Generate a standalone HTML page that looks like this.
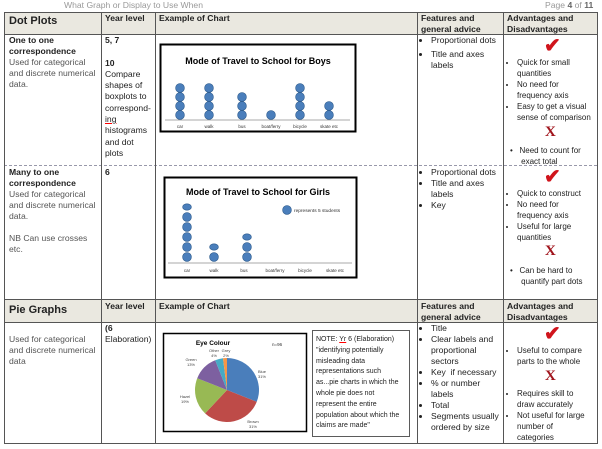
<!DOCTYPE html>
<html><head><meta charset="utf-8"><style>
body{margin:0;width:602px;height:449px;background:#fff;position:relative;overflow:hidden;font-family:"Liberation Sans",sans-serif;color:#222}
.a{position:absolute}
.t{font-size:8.6px;line-height:11px}
.h{font-weight:bold;font-size:8.6px;line-height:11px}
.g{color:#555}
.hl{position:absolute;background:#555;height:1px}
.vl{position:absolute;background:#555;width:1px}
.bg{position:absolute;background:#eae8e0}
ul{margin:0;padding:0 0 0 10px}
li{margin:0}
.ck{color:#d0141c;font-size:20px;font-weight:bold;line-height:20px}
.x{font-family:"Liberation Serif",serif;color:#a0141c;font-weight:bold;font-size:15px;line-height:15px}
.c5{width:89px;font-size:8px}
</style></head><body>
<div class="a t" style="left:64px;top:0;color:#999">What Graph or Display to Use When</div>
<div class="a t" style="left:545px;top:0;color:#999">Page <b style="color:#666">4</b> of <b style="color:#666">11</b></div>

<div class="bg" style="left:4px;top:12px;width:593px;height:22px"></div>
<div class="bg" style="left:4px;top:300px;width:593px;height:22px"></div>

<div class="hl" style="left:4px;top:12px;width:593px"></div>
<div class="hl" style="left:4px;top:34px;width:593px"></div>
<div class="a" style="left:4px;top:165px;width:593px;border-top:1px dashed #99a"></div>
<div class="hl" style="left:4px;top:299px;width:593px"></div>
<div class="hl" style="left:4px;top:322px;width:593px"></div>
<div class="hl" style="left:4px;top:443px;width:593px"></div>
<div class="vl" style="left:4px;top:12px;height:432px"></div>
<div class="vl" style="left:101px;top:12px;height:432px"></div>
<div class="vl" style="left:155px;top:12px;height:432px"></div>
<div class="vl" style="left:417px;top:12px;height:432px"></div>
<div class="vl" style="left:503px;top:12px;height:432px"></div>
<div class="vl" style="left:597px;top:12px;height:432px"></div>

<div class="a" style="left:9px;top:15px;font-weight:bold;font-size:11px">Dot Plots</div>
<div class="a h" style="left:105px;top:13px">Year level</div>
<div class="a h" style="left:159px;top:13px">Example of Chart</div>
<div class="a h" style="left:421px;top:13px">Features and<br>general advice</div>
<div class="a h" style="left:507px;top:13px">Advantages and<br>Disadvantages</div>

<div class="a t" style="left:9px;top:35px;width:90px"><b>One to one correspondence</b><br><span class="g">Used for categorical and discrete numerical data.</span></div>
<div class="a t" style="left:105px;top:35px;width:48px;line-height:11.3px"><b>5, 7</b><br><br><b>10</b><br>Compare shapes of boxplots to correspond-<br><u style="text-decoration-color:red">ing</u> histograms and dot plots</div>

<svg class="a" style="left:155px;top:34px" width="262" height="265" viewBox="155 34 262 265" font-family="Liberation Sans">
<rect x="160.5" y="44.5" width="195" height="87" fill="#fff" stroke="#000" stroke-width="2"/>
<text x="258" y="64" font-size="9" font-weight="bold" text-anchor="middle">Mode of Travel to School for Boys</text>
<line x1="165" y1="120" x2="350" y2="120" stroke="#aaa"/>
<g fill="#4a7ebb" stroke="#2c5a8c" stroke-width="0.6">
<circle cx="180" cy="115" r="4.4"/><circle cx="180" cy="106" r="4.4"/><circle cx="180" cy="97" r="4.4"/><circle cx="180" cy="88" r="4.4"/>
<circle cx="209" cy="115" r="4.4"/><circle cx="209" cy="106" r="4.4"/><circle cx="209" cy="97" r="4.4"/><circle cx="209" cy="88" r="4.4"/>
<circle cx="242" cy="115" r="4.4"/><circle cx="242" cy="106" r="4.4"/><circle cx="242" cy="97" r="4.4"/>
<circle cx="271" cy="115" r="4.4"/>
<circle cx="300" cy="115" r="4.4"/><circle cx="300" cy="106" r="4.4"/><circle cx="300" cy="97" r="4.4"/><circle cx="300" cy="88" r="4.4"/>
<circle cx="329" cy="115" r="4.4"/><circle cx="329" cy="106" r="4.4"/>
</g>
<g font-size="4.5" text-anchor="middle" fill="#333"><text x="180" y="128">car</text><text x="209" y="128">walk</text><text x="242" y="128">bus</text><text x="271" y="128">boat/ferry</text><text x="300" y="128">bicycle</text><text x="329" y="128">skate etc</text></g>

<rect x="164.5" y="177.5" width="192" height="100" fill="#fff" stroke="#000" stroke-width="2"/>
<text x="258" y="195" font-size="9" font-weight="bold" text-anchor="middle">Mode of Travel to School for Girls</text>
<line x1="168" y1="263" x2="352" y2="263" stroke="#aaa"/>
<g fill="#4a7ebb" stroke="#2c5a8c" stroke-width="0.6">
<circle cx="187" cy="257" r="4.4"/><circle cx="187" cy="247" r="4.4"/><circle cx="187" cy="237" r="4.4"/><circle cx="187" cy="227" r="4.4"/><circle cx="187" cy="217" r="4.4"/><ellipse cx="187" cy="207" rx="4.4" ry="3.2"/>
<circle cx="214" cy="257" r="4.4"/><ellipse cx="214" cy="247" rx="4.4" ry="3.2"/>
<circle cx="247" cy="257" r="4.4"/><circle cx="247" cy="247" r="4.4"/><ellipse cx="247" cy="237" rx="4.4" ry="3.2"/>
<circle cx="287" cy="210" r="4.4"/>
</g>
<text x="294" y="212" font-size="4.8" fill="#333">represents 5 students</text>
<g font-size="4.5" text-anchor="middle" fill="#333"><text x="187" y="272">car</text><text x="214" y="272">walk</text><text x="244" y="272">bus</text><text x="275" y="272">boat/ferry</text><text x="305" y="272">bicycle</text><text x="335" y="272">skate etc</text></g>
</svg>

<div class="a t" style="left:421px;top:35px;width:80px"><ul><li>Proportional dots</li><li style="margin-top:3px">Title and axes labels</li></ul></div>
<div class="a ck" style="left:544px;top:36px">✔</div>
<div class="a t c5" style="left:507px;top:57px"><ul><li>Quick for small quantities</li><li>No need for frequency axis</li><li>Easy to get a visual sense of comparison</li></ul></div>
<div class="a x" style="left:545px;top:125px">X</div>
<div class="a t c5" style="left:510px;top:145px;width:86px">•&nbsp;&nbsp; Need to count for<br>&nbsp;&nbsp;&nbsp;&nbsp; exact total</div>

<div class="a t" style="left:9px;top:167px;width:90px"><b>Many to one correspondence</b><br><span class="g">Used for categorical and discrete numerical data.<br><br>NB Can use crosses etc.</span></div>
<div class="a h" style="left:105px;top:167px">6</div>
<div class="a t" style="left:421px;top:167px;width:80px"><ul><li>Proportional dots</li><li>Title and axes labels</li><li>Key</li></ul></div>
<div class="a ck" style="left:544px;top:167px">✔</div>
<div class="a t c5" style="left:507px;top:188px"><ul><li>Quick to construct</li><li>No need for frequency axis</li><li>Useful for large quantities</li></ul></div>
<div class="a x" style="left:545px;top:244px">X</div>
<div class="a t c5" style="left:510px;top:265px;width:86px">•&nbsp;&nbsp; Can be hard to<br>&nbsp;&nbsp;&nbsp;&nbsp; quantify part dots</div>

<div class="a" style="left:9px;top:304px;font-weight:bold;font-size:11px">Pie Graphs</div>
<div class="a h" style="left:105px;top:301px">Year level</div>
<div class="a h" style="left:159px;top:301px">Example of Chart</div>
<div class="a h" style="left:421px;top:301px">Features and<br>general advice</div>
<div class="a h" style="left:507px;top:301px">Advantages and<br>Disadvantages</div>

<div class="a t g" style="left:9px;top:334px;width:90px">Used for categorical and discrete numerical data</div>
<div class="a t" style="left:105px;top:323px;width:50px"><b>(6</b><br>Elaboration)</div>

<svg class="a" style="left:155px;top:322px" width="262" height="120" viewBox="155 322 262 120" font-family="Liberation Sans">
<rect x="163.5" y="333.5" width="143" height="98" fill="#fff" stroke="#000" stroke-width="1.5"/>
<text x="213" y="345" font-size="6.5" font-weight="bold" text-anchor="middle">Eye Colour</text>
<text x="272" y="346" font-size="4.5" fill="#333">n=96</text>
<path d="M227 390 L227 358 A32 32 0 0 1 256.75 401.78Z" fill="#4a7ebb"/>
<path d="M227 390 L256.75 401.78 A32 32 0 0 1 205.1 413.33Z" fill="#be4b48"/>
<path d="M227 390 L205.1 413.33 A32 32 0 0 1 197.25 378.22Z" fill="#98b954"/>
<path d="M227 390 L197.25 378.22 A32 32 0 0 1 215.22 360.25Z" fill="#7d60a0"/>
<path d="M227 390 L215.22 360.25 A32 32 0 0 1 222.99 358.25Z" fill="#46aac5"/>
<path d="M227 390 L222.99 358.25 A32 32 0 0 1 227 358Z" fill="#f79646"/>
<g font-size="4" fill="#444" text-anchor="middle">
<text x="262" y="373">Blue</text><text x="262" y="378">31%</text>
<text x="253" y="423">Brown</text><text x="253" y="428">31%</text>
<text x="185" y="398">Hazel</text><text x="185" y="403">19%</text>
<text x="191" y="361">Green</text><text x="191" y="366">13%</text>
<text x="214" y="352">Other</text><text x="214" y="357">4%</text>
<text x="226" y="352">Grey</text><text x="226" y="357">2%</text>
</g>
<rect x="312.5" y="330.5" width="97" height="106" fill="#fff" stroke="#333" stroke-width="0.8"/>
</svg>
<div class="a" style="left:316px;top:335px;width:88px;font-size:7px;line-height:10.8px">NOTE: <u style="text-decoration-color:red">Yr</u> 6 (Elaboration) "identifying potentially misleading data representations such as...pie charts in which the whole pie does not represent the entire population about which the claims are made"</div>

<div class="a t" style="left:421px;top:323px;width:82px"><ul><li>Title</li><li>Clear labels and proportional sectors</li><li>Key &nbsp;if necessary</li><li>% or number labels</li><li>Total</li><li>Segments usually ordered by size</li></ul></div>
<div class="a ck" style="left:544px;top:324px">✔</div>
<div class="a t c5" style="left:507px;top:345px"><ul><li>Useful to compare parts to the whole</li></ul></div>
<div class="a x" style="left:545px;top:369px">X</div>
<div class="a t c5" style="left:507px;top:388px;width:85px"><ul><li>Requires skill to draw accurately</li><li>Not useful for large number of categories</li></ul></div>
</body></html>
